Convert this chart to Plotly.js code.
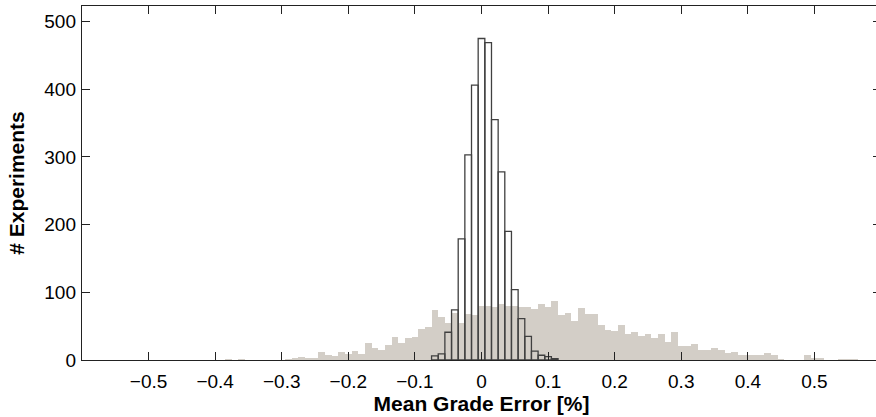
<!DOCTYPE html>
<html>
<head>
<meta charset="utf-8">
<script src="https://cdn.plot.ly/plotly-3.0.1.min.js"></script>
<style>
html, body { margin: 0; padding: 0; overflow: hidden; background: #fff; }
#chart { width: 884px; height: 417px; }
</style>
</head>
<body>
<div id="chart"></div>
<script>
// Bin centres (bin width 0.01) and counts
const grayBins = [
  -0.38, -0.37, -0.36, -0.35, -0.34, -0.33, -0.32, -0.31, -0.30, -0.29,
  -0.28, -0.27, -0.26, -0.25, -0.24, -0.23, -0.22, -0.21, -0.20, -0.19,
  -0.18, -0.17, -0.16, -0.15, -0.14, -0.13, -0.12, -0.11, -0.10, -0.09,
  -0.08, -0.07, -0.06, -0.05, -0.04, -0.03, -0.02, -0.01, 0.00, 0.01,
  0.02, 0.03, 0.04, 0.05, 0.06, 0.07, 0.08, 0.09, 0.10, 0.11,
  0.12, 0.13, 0.14, 0.15, 0.16, 0.17, 0.18, 0.19, 0.20, 0.21,
  0.22, 0.23, 0.24, 0.25, 0.26, 0.27, 0.28, 0.29, 0.30, 0.31,
  0.32, 0.33, 0.34, 0.35, 0.36, 0.37, 0.38, 0.39, 0.40, 0.41,
  0.42, 0.43, 0.44, 0.45, 0.46, 0.47, 0.48, 0.49, 0.50, 0.51,
  0.52, 0.53, 0.54, 0.55, 0.56
];
const grayCounts = [
  1, 0, 1, 0, 0, 0, 0, 0, 0, 1,
  3, 5, 3, 3, 12, 7, 6, 12, 9, 13,
  9, 25, 18, 15, 22, 34, 25, 32, 34, 46,
  49, 74, 63, 55, 70, 54, 68, 66, 80, 80,
  79, 83, 80, 80, 78, 78, 76, 83, 78, 87,
  66, 70, 58, 77, 68, 68, 51, 45, 43, 51,
  38, 41, 36, 38, 32, 38, 27, 41, 21, 20,
  23, 15, 15, 18, 15, 10, 12, 7, 7, 8,
  7, 10, 7, 2, 0.5, 0.5, 0, 7, 3, 3.5,
  0, 0, 2, 1, 1
];
const outlineBins = [
  -0.07, -0.06, -0.05, -0.04, -0.03, -0.02, -0.01, 0.00, 0.01, 0.02,
  0.03, 0.04, 0.05, 0.06, 0.07, 0.08, 0.09, 0.10, 0.11
];
const outlineCounts = [
  6, 9, 41, 74, 179, 303, 406, 475, 469, 355,
  278, 190, 104, 61, 35, 13, 7, 5, 2
];
const xTickVals = [-0.5, -0.4, -0.3, -0.2, -0.1, 0, 0.1, 0.2, 0.3, 0.4, 0.5];
const xTickText = ['\u22120.5', '\u22120.4', '\u22120.3', '\u22120.2', '\u22120.1', '0', '0.1', '0.2', '0.3', '0.4', '0.5'];
const yTickVals = [0, 100, 200, 300, 400, 500];

const FONT = 'Liberation Sans, Arial, Helvetica, sans-serif';

const traces = [
  {
    type: 'bar',
    x: grayBins,
    y: grayCounts,
    width: 0.01,
    marker: { color: 'rgb(211,206,199)', line: { width: 0 } },
    hoverinfo: 'x+y'
  },
  {
    type: 'bar',
    x: outlineBins,
    y: outlineCounts,
    width: 0.01,
    marker: { color: 'rgba(0,0,0,0)', line: { color: '#404040', width: 1.3 } },
    hoverinfo: 'x+y'
  }
];

const layout = {
  width: 884,
  height: 417,
  margin: { l: 82, r: 3, t: 6, b: 57 },
  paper_bgcolor: '#ffffff',
  plot_bgcolor: '#ffffff',
  barmode: 'overlay',
  bargap: 0,
  showlegend: false,
  font: { family: FONT, size: 19, color: '#000' },
  xaxis: {
    range: [-0.6, 0.6],
    tickvals: xTickVals,
    ticktext: xTickText,
    ticks: 'inside',
    ticklen: 8,
    tickwidth: 1,
    tickcolor: '#222',
    showline: true,
    linecolor: '#222',
    linewidth: 1.2,
    mirror: 'ticks',
    showgrid: false,
    zeroline: false,
    tickfont: { family: FONT, size: 19, color: '#000' },
    ticklabelstandoff: 4,
    title: { text: '<b>Mean Grade Error [%]</b>', font: { family: FONT, size: 21, color: '#000' }, standoff: 4 }
  },
  yaxis: {
    range: [0, 523],
    tickvals: yTickVals,
    ticks: 'inside',
    ticklen: 8,
    tickwidth: 1,
    tickcolor: '#222',
    showline: true,
    linecolor: '#222',
    linewidth: 1.2,
    mirror: 'ticks',
    showgrid: false,
    zeroline: false,
    tickfont: { family: FONT, size: 19, color: '#000' },
    ticklabelstandoff: 1,
    title: { text: '<b># Experiments</b>', font: { family: FONT, size: 21, color: '#000' }, standoff: 14 }
  }
};

Plotly.newPlot('chart', traces, layout, { displayModeBar: false, staticPlot: true });
</script>
</body>
</html>
